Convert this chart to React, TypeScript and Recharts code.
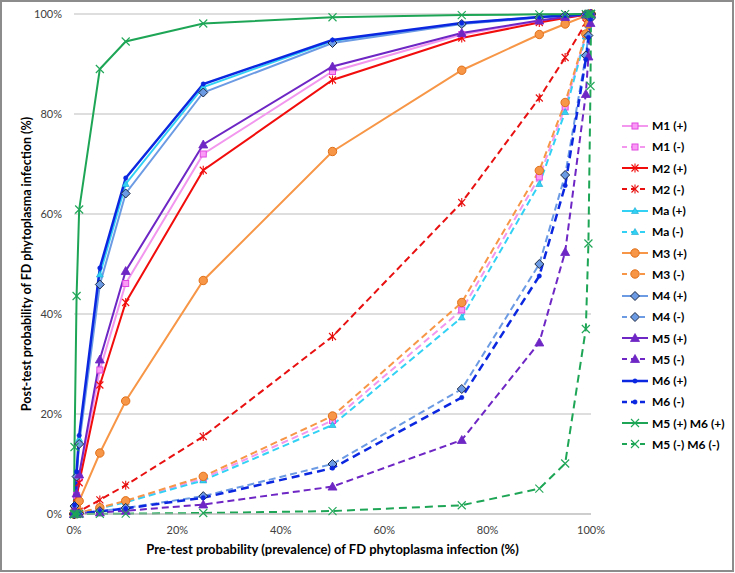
import React from "react";
import { LineChart, Line, XAxis, YAxis, CartesianGrid, Legend } from "recharts";

// pre-test probability (prevalence, %)
const prevalence = [0, 0.1, 0.5, 1, 5, 10, 25, 50, 75, 90, 95, 99, 99.5, 99.9, 100];

// post-test probability (%) for each test result
const m1Pos = [0, 0.77, 3.72, 7.22, 28.8, 46.1, 72.0, 88.5, 95.9, 98.6, 99.3, 99.87, 99.93, 99.99, 100];
const m1Neg = [0, 0.02, 0.12, 0.23, 1.2, 2.49, 7.12, 18.7, 40.8, 67.4, 81.4, 95.8, 97.9, 99.57, 100];
const m2Pos = [0, 0.66, 3.21, 6.25, 25.8, 42.3, 68.75, 86.8, 95.2, 98.3, 99.2, 99.85, 99.92, 99.98, 100];
const m2Neg = [0, 0.06, 0.28, 0.55, 2.81, 5.76, 15.5, 35.5, 62.3, 83.2, 91.3, 98.2, 99.1, 99.82, 100];
const maPos = [0, 1.72, 8.08, 15.0, 47.9, 66.0, 85.4, 94.6, 98.1, 99.4, 99.7, 99.94, 99.97, 99.99, 100];
const maNeg = [0, 0.02, 0.11, 0.22, 1.12, 2.34, 6.72, 17.8, 39.3, 66.0, 80.4, 95.5, 97.7, 99.54, 100];
const m3Pos = [0, 0.26, 1.3, 2.59, 12.2, 22.6, 46.7, 72.5, 88.75, 95.9, 98.0, 99.62, 99.81, 99.96, 100];
const m3Neg = [0, 0.02, 0.12, 0.25, 1.27, 2.64, 7.52, 19.6, 42.3, 68.7, 82.3, 96.0, 98.0, 99.59, 100];
const m4Pos = [0, 1.59, 7.49, 14.0, 45.9, 64.1, 84.3, 94.2, 98.0, 99.3, 99.67, 99.94, 99.97, 99.99, 100];
const m4Neg = [0, 0.01, 0.06, 0.11, 0.58, 1.22, 3.57, 10.0, 25.0, 50.0, 67.8, 91.7, 95.7, 99.1, 100];
const m5Pos = [0, 0.84, 4.1, 7.91, 30.9, 48.6, 73.9, 89.5, 96.2, 98.7, 99.4, 99.88, 99.94, 99.99, 100];
const m5Neg = [0, 0.01, 0.03, 0.06, 0.3, 0.64, 1.9, 5.48, 14.8, 34.3, 52.4, 84.0, 91.5, 98.2, 100];
const m6Pos = [0, 1.81, 8.46, 15.7, 49.2, 67.2, 86.0, 94.8, 98.2, 99.4, 99.71, 99.95, 99.97, 99.99, 100];
const m6Neg = [0, 0.01, 0.05, 0.1, 0.53, 1.11, 3.26, 9.17, 23.3, 47.6, 65.7, 90.9, 95.3, 99.0, 100];
const m56Pos = [0, 13.4, 43.6, 60.9, 89.0, 94.5, 98.1, 99.35, 99.78, 99.93, 99.97, 99.99, 100, 100, 100];
const m56Neg = [0, 0, 0, 0.01, 0.03, 0.07, 0.2, 0.59, 1.75, 5.07, 10.1, 37.0, 54.1, 85.6, 100];

const xTicks = [0, 20, 40, 60, 80, 100];
const yTicks = [0, 20, 40, 60, 80, 100];

type Shape = "square" | "star" | "triangle" | "smallTriangle" | "circle" | "diamond" | "dot" | "cross";

interface SeriesDef {
  key: string;
  name: string;
  values: number[];
  color: string;
  dashed: boolean;
  shape: Shape;
  fill: string;
  edge: string;
  width: number;
}

const series: SeriesDef[] = [
  { key: "m1p", name: "M1 (+)", values: m1Pos, color: "#F296EE", dashed: false, shape: "square", fill: "#FA9CF6", edge: "#E048E0", width: 2 },
  { key: "m1n", name: "M1 (-)", values: m1Neg, color: "#F296EE", dashed: true, shape: "square", fill: "#FA9CF6", edge: "#E048E0", width: 2 },
  { key: "m2p", name: "M2 (+)", values: m2Pos, color: "#F20D0D", dashed: false, shape: "star", fill: "none", edge: "#F20D0D", width: 2 },
  { key: "m2n", name: "M2 (-)", values: m2Neg, color: "#E81010", dashed: true, shape: "star", fill: "none", edge: "#E81010", width: 2 },
  { key: "map", name: "Ma (+)", values: maPos, color: "#33D2F5", dashed: false, shape: "smallTriangle", fill: "#33D2F5", edge: "#1AA8D0", width: 2 },
  { key: "man", name: "Ma (-)", values: maNeg, color: "#33D2F5", dashed: true, shape: "smallTriangle", fill: "#33D2F5", edge: "#1AA8D0", width: 2 },
  { key: "m3p", name: "M3 (+)", values: m3Pos, color: "#F79646", dashed: false, shape: "circle", fill: "#F79646", edge: "#E0701A", width: 2 },
  { key: "m3n", name: "M3 (-)", values: m3Neg, color: "#F79646", dashed: true, shape: "circle", fill: "#F79646", edge: "#E0701A", width: 2 },
  { key: "m4p", name: "M4 (+)", values: m4Pos, color: "#6C9BE4", dashed: false, shape: "diamond", fill: "#6C9BE4", edge: "#1E2A44", width: 2 },
  { key: "m4n", name: "M4 (-)", values: m4Neg, color: "#6C9BE4", dashed: true, shape: "diamond", fill: "#6C9BE4", edge: "#1E2A44", width: 2 },
  { key: "m5p", name: "M5 (+)", values: m5Pos, color: "#6E26C4", dashed: false, shape: "triangle", fill: "#6E26C4", edge: "#6E26C4", width: 2 },
  { key: "m5n", name: "M5 (-)", values: m5Neg, color: "#6E26C4", dashed: true, shape: "triangle", fill: "#6E26C4", edge: "#6E26C4", width: 2 },
  { key: "m6p", name: "M6 (+)", values: m6Pos, color: "#0B27E0", dashed: false, shape: "dot", fill: "#0B27E0", edge: "#0B27E0", width: 2.5 },
  { key: "m6n", name: "M6 (-)", values: m6Neg, color: "#0B27E0", dashed: true, shape: "dot", fill: "#0B27E0", edge: "#0B27E0", width: 2.5 },
  { key: "m56p", name: "M5 (+) M6 (+)", values: m56Pos, color: "#1EA656", dashed: false, shape: "cross", fill: "none", edge: "#1EA656", width: 2 },
  { key: "m56n", name: "M5 (-) M6 (-)", values: m56Neg, color: "#1EA656", dashed: true, shape: "cross", fill: "none", edge: "#1EA656", width: 2 },
];

const data = prevalence.map((x, i) => {
  const row: Record<string, number> = { x };
  series.forEach((s) => {
    row[s.key] = s.values[i];
  });
  return row;
});

const Marker = ({ cx, cy, s }: { cx: number; cy: number; s: SeriesDef }) => {
  if (cx == null || cy == null) return null;
  switch (s.shape) {
    case "square":
      return <rect x={cx - 3} y={cy - 3} width={6} height={6} fill={s.fill} stroke={s.edge} strokeWidth={1} />;
    case "star":
      return (
        <g stroke={s.edge} strokeWidth={1.1}>
          <line x1={cx - 3.5} y1={cy - 3.5} x2={cx + 3.5} y2={cy + 3.5} />
          <line x1={cx - 3.5} y1={cy + 3.5} x2={cx + 3.5} y2={cy - 3.5} />
          <line x1={cx} y1={cy - 4.5} x2={cx} y2={cy + 4.5} />
        </g>
      );
    case "triangle":
      return (
        <polygon
          points={`${cx},${cy - 4.5} ${cx + 4.5},${cy + 3.5} ${cx - 4.5},${cy + 3.5}`}
          fill={s.fill}
          stroke={s.edge}
          strokeWidth={0.8}
        />
      );
    case "smallTriangle":
      return (
        <polygon
          points={`${cx},${cy - 3.5} ${cx + 3.5},${cy + 2.5} ${cx - 3.5},${cy + 2.5}`}
          fill={s.fill}
          stroke={s.edge}
          strokeWidth={0.6}
        />
      );
    case "circle":
      return <circle cx={cx} cy={cy} r={4.2} fill={s.fill} stroke={s.edge} strokeWidth={1} />;
    case "diamond":
      return (
        <polygon
          points={`${cx},${cy - 4.5} ${cx + 4.5},${cy} ${cx},${cy + 4.5} ${cx - 4.5},${cy}`}
          fill={s.fill}
          stroke={s.edge}
          strokeWidth={1}
        />
      );
    case "dot":
      return <circle cx={cx} cy={cy} r={2.2} fill={s.fill} stroke={s.edge} strokeWidth={0.5} />;
    case "cross":
      return (
        <g stroke={s.edge} strokeWidth={1.1}>
          <line x1={cx - 4} y1={cy - 4} x2={cx + 4} y2={cy + 4} />
          <line x1={cx - 4} y1={cy + 4} x2={cx + 4} y2={cy - 4} />
        </g>
      );
  }
  return null;
};

const LegendList = () => (
  <div style={{ fontFamily: "Lato", fontWeight: 700, fontSize: 12, color: "#000" }}>
    {series.map((s) => (
      <div key={s.key} style={{ display: "flex", alignItems: "center", height: 21.25 }}>
        <svg width={30} height={14}>
          <line
            x1={2}
            y1={7}
            x2={28}
            y2={7}
            stroke={s.color}
            strokeWidth={s.width}
            strokeDasharray={s.dashed ? "5 4" : undefined}
          />
          <Marker cx={15} cy={7} s={s} />
        </svg>
        <span style={{ marginLeft: 2 }}>{s.name}</span>
      </div>
    ))}
  </div>
);

const tickStyle = { fontSize: 11, fill: "#404040", fontFamily: "Lato" };

export default function App() {
  return (
    <div
      style={{
        position: "absolute",
        left: 0,
        top: 0,
        width: 735,
        height: 573,
        background: "#fff",
        fontFamily: "Lato",
      }}
    >
      <div
        style={{
          position: "absolute",
          left: 0,
          top: 0,
          width: 734,
          height: 572,
          boxSizing: "border-box",
          border: "2px solid #8C8C8C",
          pointerEvents: "none",
          zIndex: 2,
        }}
      />
      <LineChart width={735} height={573} data={data} margin={{ top: 14, right: 34, bottom: 29, left: 14 }}>
        <CartesianGrid vertical={false} stroke="#BDBDBD" strokeWidth={1} />
        <XAxis
          dataKey="x"
          type="number"
          domain={[0, 100]}
          ticks={xTicks}
          tickFormatter={(v) => `${v}%`}
          tickLine={false}
          axisLine={{ stroke: "#BDBDBD" }}
          tick={tickStyle}
          tickMargin={6}
          height={30}
          label={{
            content: () => (
              <text x={332.5} y={554} textAnchor="middle" fontFamily="Lato" fontWeight="bold" fontSize={13} fill="#000">
                Pre-test probability (prevalence) of FD phytoplasma infection (%)
              </text>
            ),
          }}
        />
        <YAxis
          type="number"
          domain={[0, 100]}
          ticks={yTicks}
          tickFormatter={(v) => `${v}%`}
          tickLine={false}
          axisLine={false}
          tick={tickStyle}
          tickMargin={6}
          width={60}
          label={{
            content: () => (
              <text
                x={26}
                y={264}
                transform="rotate(-90 26 264)"
                textAnchor="middle"
                dominantBaseline="central"
                fontFamily="Lato"
                fontWeight="bold"
                fontSize={12.5}
                fill="#000"
              >
                Post-test probability of FD phytoplasma infection (%)
              </text>
            ),
          }}
        />
        <Legend
          layout="vertical"
          align="right"
          verticalAlign="middle"
          width={110}
          wrapperStyle={{ left: 620, top: 115, width: 110 }}
          content={() => <LegendList />}
        />
        {series.map((s) => (
          <Line
            key={s.key}
            type="linear"
            dataKey={s.key}
            name={s.name}
            stroke={s.color}
            strokeWidth={s.width}
            strokeDasharray={s.dashed ? (s.shape === "dot" || s.shape === "cross" ? "8 5" : "7 4") : undefined}
            dot={(p: any) => <Marker key={`${s.key}-${p.index}`} cx={p.cx} cy={p.cy} s={s} />}
            activeDot={false}
            isAnimationActive={false}
          />
        ))}
      </LineChart>
    </div>
  );
}
